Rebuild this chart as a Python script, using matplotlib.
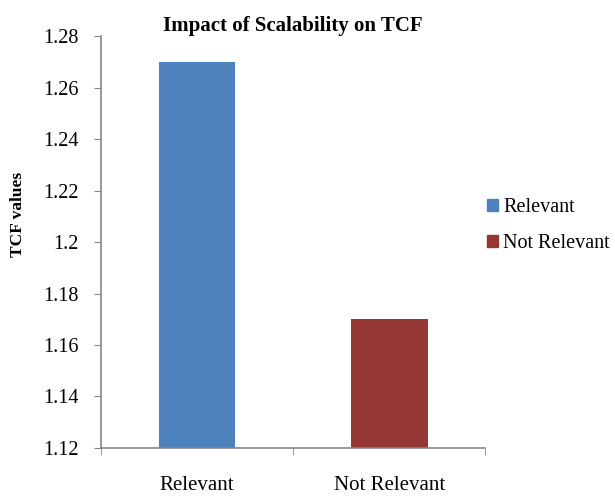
import matplotlib.pyplot as plt
from matplotlib.patches import Patch

categories = ["Relevant", "Not Relevant"]
tcf_values = [1.27, 1.17]
colors = ["#4F81BD", "#953735"]
yticks = [1.12, 1.14, 1.16, 1.18, 1.2, 1.22, 1.24, 1.26, 1.28]

plt.rcParams['font.family'] = ['Liberation Serif', 'DejaVu Serif']

fig = plt.figure(figsize=(6.15, 4.96), dpi=100)
ax = fig.add_axes([0.164, 0.097, 0.625, 0.830])

x = range(len(categories))
ax.bar(x, tcf_values, width=0.4, color=colors)

ax.set_xlim(-0.5, 1.5)
ax.set_ylim(1.12, 1.28)
ax.set_yticks(yticks)
ax.set_yticklabels([f"{v:g}" for v in yticks], fontsize=14.5)
ax.set_xticks([0, 1])
ax.set_xticklabels(categories, fontsize=15)
ax.tick_params(axis='x', length=0, pad=20)
# category boundary ticks
ax.set_xticks([-0.5, 0.5, 1.5], minor=True)
ax.tick_params(axis='x', which='minor', length=5, color='#868686', direction='out')
ax.tick_params(axis='y', length=5, color='#868686', direction='out', pad=11)

for s in ['top', 'right']:
    ax.spines[s].set_visible(False)
for s in ['left', 'bottom']:
    ax.spines[s].set_color('#868686')
    ax.spines[s].set_linewidth(1.2)

ax.set_ylabel("TCF values", fontsize=12.5, fontweight='bold')
ax.yaxis.set_label_coords(-0.195, 0.568)
ax.set_title("Impact of Scalability on TCF", fontsize=15, fontweight='bold', pad=4)

handles = [Patch(color=c) for c in colors]
fig.legend(handles, categories, loc='center left', bbox_to_anchor=(0.792, 0.545),
           frameon=False, fontsize=14.5, handlelength=0.55, handleheight=0.55,
           handletextpad=0.25, labelspacing=0.85, borderpad=0, borderaxespad=0)

fig.savefig("out.png", dpi=100)
